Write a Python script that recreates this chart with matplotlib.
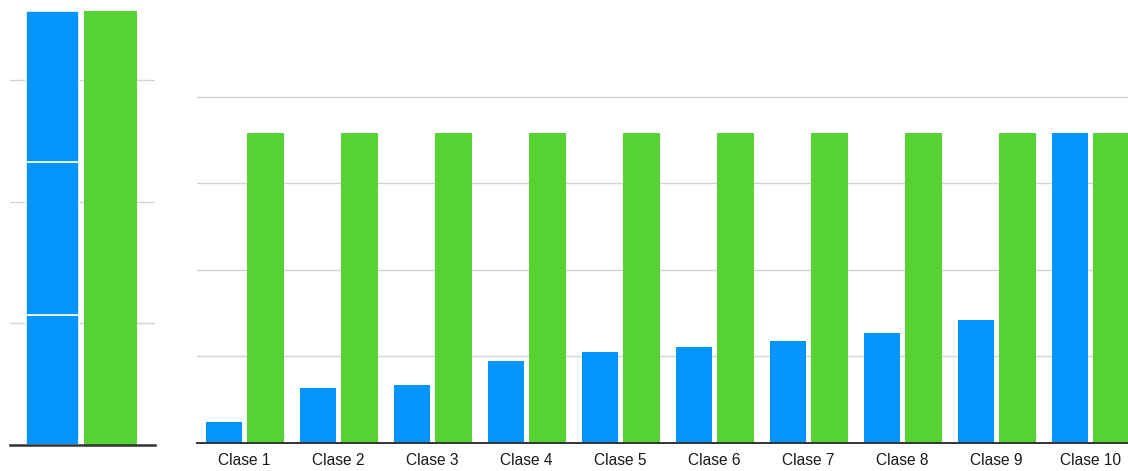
import matplotlib
matplotlib.use("Agg")
import matplotlib.pyplot as plt

# ---- data ----
categories = ["Clase 1", "Clase 2", "Clase 3", "Clase 4", "Clase 5",
              "Clase 6", "Clase 7", "Clase 8", "Clase 9", "Clase 10"]
blue_values = [0.24, 0.63, 0.67, 0.94, 1.05, 1.11, 1.18, 1.27, 1.42, 3.58]
green_values = [3.58, 3.58, 3.58, 3.58, 3.58, 3.58, 3.58, 3.58, 3.58, 3.58]

left_stack_segments = [1.07, 1.255, 1.243]
left_green_total = 3.568

BLUE = "#0395FE"
GREEN = "#56D232"
GRID = "#d3d3d3"
BASE = "#333333"

plt.rcParams['font.family'] = ['Liberation Sans', 'DejaVu Sans']

W, H = 1128, 471
fig = plt.figure(figsize=(W / 100, H / 100), dpi=100)

def px_axes(x0, x1, y_top, y_bottom):
    return fig.add_axes([x0 / W, (H - y_bottom) / H, (x1 - x0) / W, (y_bottom - y_top) / H])

# ---- left panel ----
axL = px_axes(10, 155, 0, 445)
unitL = 121.7
axL.set_ylim(0, 445 / unitL)
axL.set_xlim(-0.741, 1.776)
bottom = 0
for seg in left_stack_segments:
    axL.bar(0, seg, bottom=bottom, width=0.92, color=BLUE,
            edgecolor="white", linewidth=1.2, zorder=3)
    bottom += seg
axL.bar(1, left_green_total, width=0.92, color=GREEN, linewidth=0, zorder=3)
axL.set_yticks([1, 2, 3])
axL.yaxis.grid(True, color=GRID, linewidth=1.0, zorder=0)
axL.set_axisbelow(True)
for s in ["top", "right", "left"]:
    axL.spines[s].set_visible(False)
axL.spines["bottom"].set_color(BASE)
axL.spines["bottom"].set_linewidth(1.8)
axL.spines["bottom"].set_zorder(4)
axL.tick_params(left=False, bottom=False, labelleft=False, labelbottom=False)

# ---- right panel ----
axR = px_axes(197, 1128, 0, 442.7)
unitR = 86.5
axR.set_ylim(0, 442.7 / unitR)
axR.set_xlim(-0.507, 9.397)
x = list(range(len(categories)))
off = 0.221
bw = 0.39
axR.bar([i - off for i in x], blue_values, width=bw, color=BLUE, linewidth=0, zorder=3)
axR.bar([i + off for i in x], green_values, width=bw, color=GREEN, linewidth=0, zorder=3)
axR.set_yticks([1, 2, 3, 4])
axR.yaxis.grid(True, color=GRID, linewidth=1.0, zorder=0)
axR.set_axisbelow(True)
for s in ["top", "right", "left"]:
    axR.spines[s].set_visible(False)
axR.spines["bottom"].set_color(BASE)
axR.spines["bottom"].set_linewidth(1.4)
axR.spines["bottom"].set_zorder(4)
axR.set_xticks(x)
axR.set_xticklabels(categories, fontsize=11.2, color="#1a1a1a")
axR.tick_params(left=False, bottom=False, labelleft=False, pad=4)

fig.savefig("out.png", dpi=100)
